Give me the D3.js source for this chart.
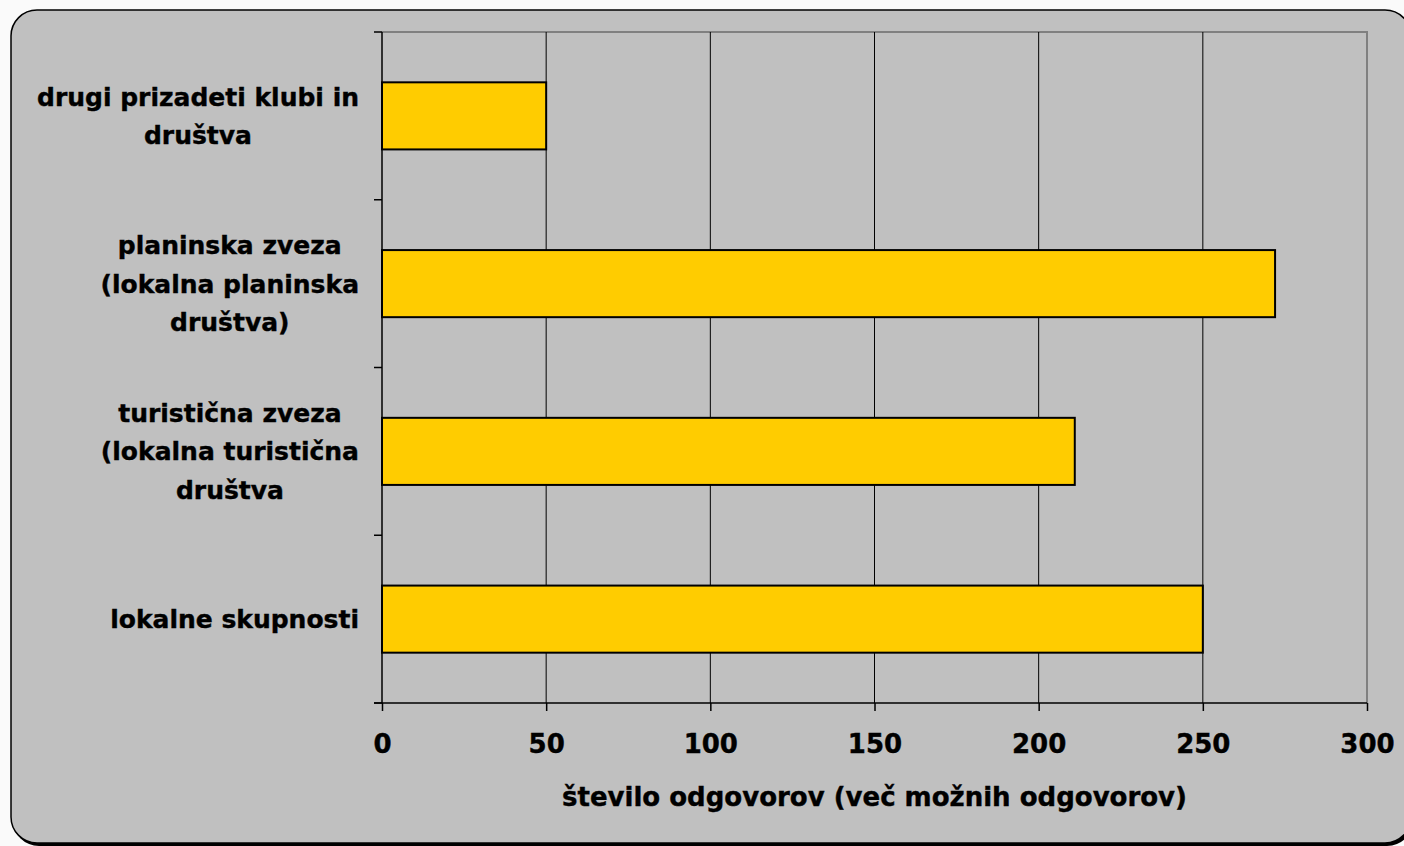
<!DOCTYPE html>
<html>
<head>
<meta charset="utf-8">
<script src="https://cdn.jsdelivr.net/npm/d3@7"></script>
<style>
  body { margin: 0; background: #fafafa; }
  svg text { font-family: "DejaVu Sans", Verdana, sans-serif; font-weight: bold; fill: #000; stroke: #000; stroke-width: 0.4px; }
</style>
</head>
<body>
<svg id="chart" width="1404" height="846"></svg>
<script>
// ----------- DATA -----------
var categories = [
  ["drugi prizadeti klubi in", "društva"],
  ["planinska zveza", "(lokalna planinska", "društva)"],
  ["turistična zveza", "(lokalna turistična", "društva"],
  ["lokalne skupnosti"]
];
var values = [50, 272, 211, 250];
var xTicks = [0, 50, 100, 150, 200, 250, 300];
var xTitle = "število odgovorov (več možnih odgovorov)";

// ----------- SETUP -----------
var svg = d3.select("#chart");
var plot = { left: 382, right: 1367, top: 32, bottom: 703 };

// chart box with shadow
svg.append("rect")
  .attr("x", 13).attr("y", 12)
  .attr("width", 1400).attr("height", 834)
  .attr("rx", 26).attr("ry", 26)
  .attr("fill", "#000");
svg.append("rect")
  .attr("x", 11).attr("y", 10)
  .attr("width", 1400).attr("height", 833)
  .attr("rx", 26).attr("ry", 26)
  .attr("fill", "#c0c0c0")
  .attr("stroke", "#000")
  .attr("stroke-width", 1.5);

var x = d3.scaleLinear().domain([0, 300]).range([plot.left, plot.right]);
var y = d3.scaleBand()
  .domain(d3.range(categories.length))
  .range([plot.top, plot.bottom])
  .paddingInner(0.6)
  .paddingOuter(0.3);

// plot frame (top and right edges gray)
svg.append("path")
  .attr("d", "M" + plot.left + "," + plot.top + "H" + plot.right + "V" + plot.bottom)
  .attr("fill", "none")
  .attr("stroke", "#808080")
  .attr("stroke-width", 2);

// gridlines
svg.append("g")
  .selectAll("line")
  .data(xTicks.filter(function(d) { return d > 0 && d < 300; }))
  .enter()
  .append("line")
  .attr("x1", function(d) { return x(d); })
  .attr("x2", function(d) { return x(d); })
  .attr("y1", plot.top)
  .attr("y2", plot.bottom)
  .attr("stroke", "#000")
  .attr("stroke-width", 1);

// bars
svg.append("g")
  .selectAll("rect")
  .data(values)
  .enter()
  .append("rect")
  .attr("x", x(0))
  .attr("y", function(d, i) { return y(i); })
  .attr("width", function(d) { return x(d) - x(0); })
  .attr("height", y.bandwidth())
  .attr("fill", "#ffcc00")
  .attr("stroke", "#000")
  .attr("stroke-width", 2);

// x axis
var xAxis = svg.append("g")
  .attr("transform", "translate(0," + plot.bottom + ")")
  .call(d3.axisBottom(x).tickValues(xTicks).tickSize(8).tickPadding(24));
xAxis.select(".domain").attr("stroke", "#000").attr("stroke-width", 1.5)
  .attr("d", "M" + (plot.left - 8) + ",0H" + plot.right);
xAxis.selectAll(".tick line").attr("stroke", "#000").attr("stroke-width", 1.5);
xAxis.selectAll(".tick text")
  .style("font-size", "26px")
  .style("font-family", "'DejaVu Sans', Verdana, sans-serif")
  .style("font-weight", "bold");

// y axis line and ticks at band boundaries
var step = (plot.bottom - plot.top) / categories.length;
var yGrid = d3.range(categories.length + 1).map(function(i) { return plot.top + i * step; });
svg.append("line")
  .attr("x1", plot.left).attr("x2", plot.left)
  .attr("y1", plot.top).attr("y2", plot.bottom)
  .attr("stroke", "#000").attr("stroke-width", 1.5);
svg.append("g")
  .selectAll("line")
  .data(yGrid)
  .enter()
  .append("line")
  .attr("x1", plot.left - 8).attr("x2", plot.left)
  .attr("y1", function(d) { return d; })
  .attr("y2", function(d) { return d; })
  .attr("stroke", "#000").attr("stroke-width", 1.5);

// category labels, lines centered, block right-aligned
var lineH = 38.5;
var labelRight = 359;
categories.forEach(function(lines, i) {
  var g = svg.append("g");
  var cy = y(i) + y.bandwidth() / 2;
  var texts = lines.map(function(t, k) {
    return g.append("text")
      .attr("y", cy + (k - (lines.length - 1) / 2) * lineH + 9)
      .attr("text-anchor", "middle")
      .style("font-size", "25px")
      .text(t);
  });
  var maxW = d3.max(texts, function(t) { return t.node().getComputedTextLength(); });
  texts.forEach(function(t) { t.attr("x", labelRight - maxW / 2); });
});

// axis title
svg.append("text")
  .attr("x", (plot.left + plot.right) / 2)
  .attr("y", 806)
  .attr("text-anchor", "middle")
  .style("font-size", "26px")
  .text(xTitle);
</script>
</body>
</html>
